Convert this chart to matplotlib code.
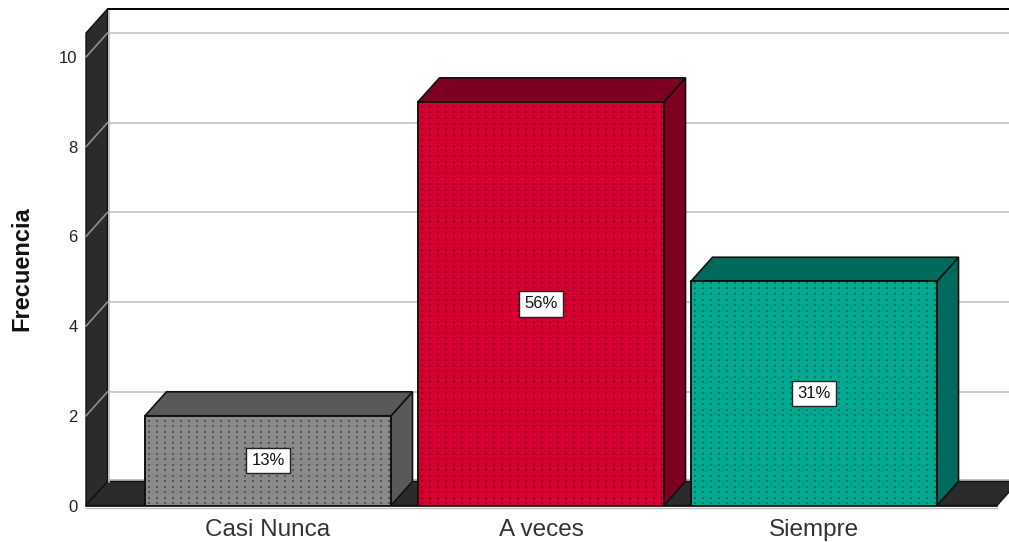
import matplotlib.pyplot as plt
import matplotlib.patches as mpatches
import numpy as np

plt.rcParams['font.family'] = ['Liberation Sans', 'DejaVu Sans']

categorias = ['Casi Nunca', 'A veces', 'Siempre']
frecuencias = [2, 9, 5]
porcentajes = ['13%', '56%', '31%']
y_ticks = [0, 2, 4, 6, 8, 10]

colores_frente = ['#8c8a88', '#d5002f', '#00a98f']
colores_lado = ['#5a5957', '#7d0020', '#006b5c']
colores_punto = ['#565554', '#8f0a28', '#1a7568']

W, H = 1009, 542
PX_X = 273.0   # pixeles por categoria
PX_Y = 44.85   # pixeles por unidad
left, right, bottom, top = 86, 997, 505.5, 33

# marcador alargado para la trama
PUNTO = [(-0.5, -1), (0.5, -1), (0.5, 1), (-0.5, 1)]


def main():
    fig = plt.figure(figsize=(W / 100, H / 100), dpi=100, facecolor='white')
    ax = fig.add_axes([left / W, 1 - bottom / H, (right - left) / W, (bottom - top) / H])
    ax.set_xlim((left - 268) / PX_X, (right - 268) / PX_X)
    ax.set_ylim(0, (bottom - top) / PX_Y)
    ax.patch.set_visible(False)
    for s in ax.spines.values():
        s.set_visible(False)

    # profundidad del efecto 3D
    dx, dy = 21.5 / PX_X, 24 / PX_Y
    x0, x1 = ax.get_xlim()
    ytop = ax.get_ylim()[1]
    dark = '#2a2b2a'

    # pared izquierda y suelo
    ax.add_patch(mpatches.Polygon([(x0, 0), (x0 + dx, dy), (x0 + dx, ytop + dy), (x0, ytop)],
                                  fc=dark, ec='#111111', lw=1, clip_on=False, zorder=1))
    ax.add_patch(mpatches.Polygon([(x0, 0), (x0 + dx, dy), (x1 + dx, dy), (x1, 0)],
                                  fc=dark, ec='#111111', lw=1, clip_on=False, zorder=1))
    ax.plot([x0, x1], [0, 0], color='#111111', lw=1.2, clip_on=False, zorder=1.5)
    ax.plot([x0 + dx, x1 + dx], [dy + 0.03, dy + 0.03], color='#bdbdbd', lw=1.5, clip_on=False, zorder=0.9)
    ax.plot([x0, x1], [-0.05, -0.05], color='#bdbdbd', lw=1, clip_on=False, zorder=0.9)

    # rejilla sobre la pared del fondo
    for t in y_ticks[1:]:
        ax.plot([x0 + dx, x1 + dx], [t + dy, t + dy], color='#c8c8c8', lw=1.3, clip_on=False, zorder=0.8)
        ax.plot([x0, x0 + dx], [t, t + dy], color='#8f8f8f', lw=1.2, clip_on=False, zorder=1.2)
    ax.plot([x0 + dx, x1 + dx], [ytop + dy, ytop + dy], color='black', lw=1.4, clip_on=False, zorder=1.3)
    ax.plot([x0 + dx + 0.006, x0 + dx + 0.006], [dy, ytop + dy], color='#bdbdbd', lw=1.2, clip_on=False, zorder=1.1)

    # barras
    bar_w = 246 / PX_X
    for i, v in enumerate(frecuencias):
        xa, xb = i - bar_w / 2, i + bar_w / 2
        ax.add_patch(mpatches.Polygon([(xb, 0), (xb + dx, dy), (xb + dx, v + dy), (xb, v)],
                                      fc=colores_lado[i], ec='#111111', lw=1.2, clip_on=False, zorder=2))
        ax.add_patch(mpatches.Polygon([(xa, v), (xa + dx, v + dy), (xb + dx, v + dy), (xb, v)],
                                      fc=colores_lado[i], ec='#111111', lw=1.2, clip_on=False, zorder=2))
        ax.add_patch(mpatches.Rectangle((xa, 0), bar_w, v, fc=colores_frente[i], ec='none', zorder=3))

        # trama de puntos del frente
        px = np.arange(xa + 4 / PX_X, xb, 8 / PX_X)
        py = np.arange(2.5 / PX_Y, v, 5.5 / PX_Y)
        gx, gy = np.meshgrid(px, py)
        ax.scatter(gx.ravel(), gy.ravel(), s=3.2, marker=PUNTO, color=colores_punto[i], lw=0, zorder=3.2)

        ax.add_patch(mpatches.Rectangle((xa, 0), bar_w, v, fc='none', ec='#111111', lw=1.4, zorder=3.5))
        ax.text(i, v / 2, porcentajes[i], ha='center', va='center', fontsize=12, color='#111111', zorder=5,
                bbox=dict(boxstyle='square,pad=0.32', fc='white', ec='#222222', lw=1))

    ax.set_xticks(range(len(categorias)))
    ax.set_xticklabels(categorias, fontsize=17.5, color='#333333')
    ax.set_yticks(y_ticks)
    ax.set_yticklabels([str(t) for t in y_ticks], fontsize=12, color='#222222')
    ax.tick_params(axis='both', length=0)
    ax.tick_params(axis='x', pad=10)
    ax.tick_params(axis='y', pad=6)
    ax.set_ylabel('Frecuencia', fontsize=17, fontweight='bold', color='#111111')
    ax.yaxis.set_label_coords((33 - left) / (right - left), (bottom - 269) / (bottom - top))

    fig.savefig('out.png', dpi=100)


if __name__ == '__main__':
    main()
